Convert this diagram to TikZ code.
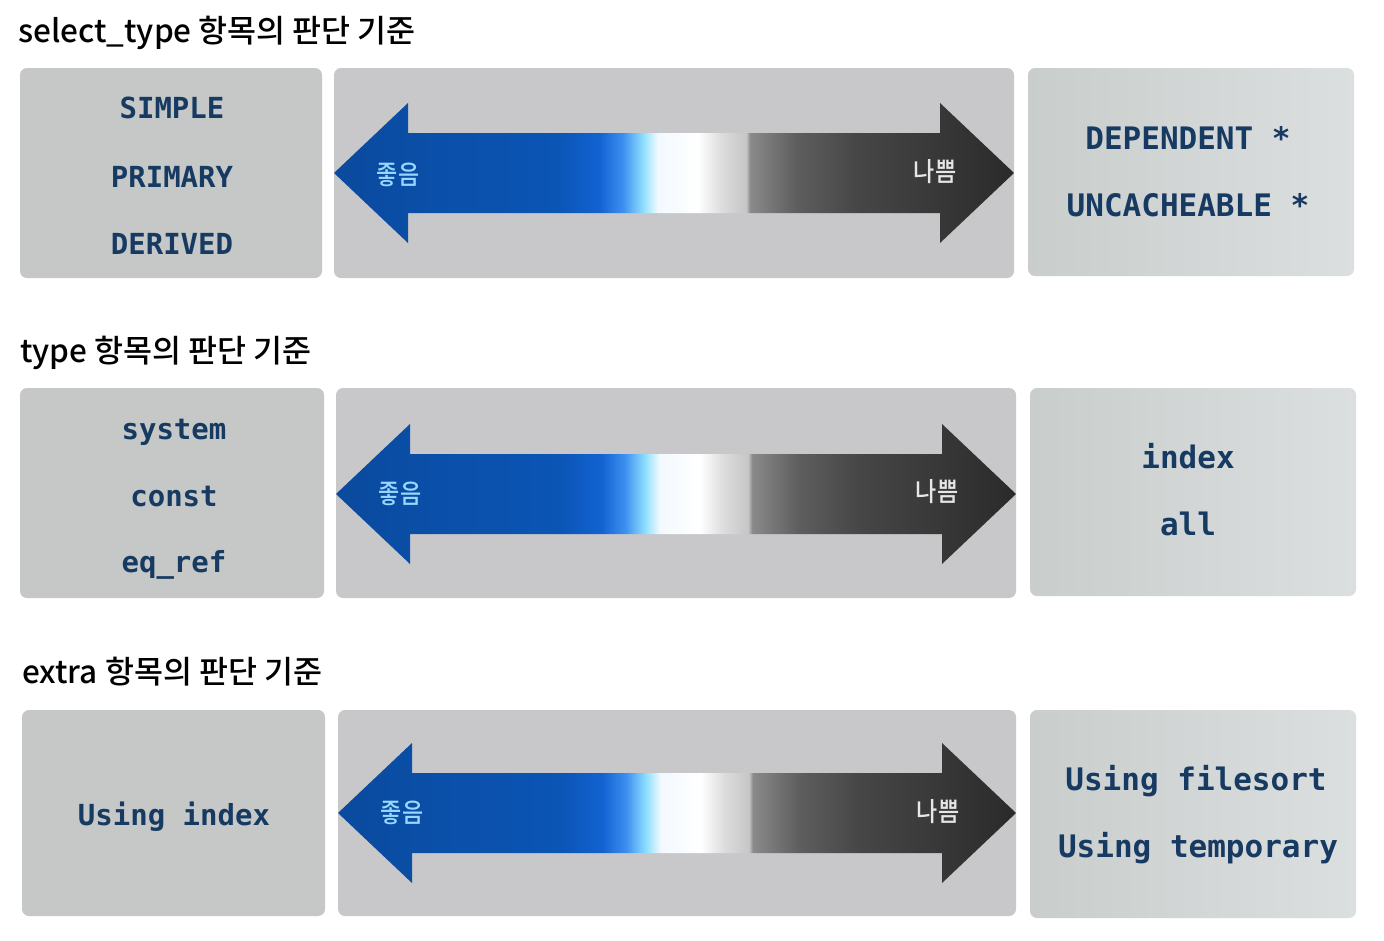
\documentclass[tikz,border=0pt]{standalone}
\usepackage{fontspec}
\setmonofont{DejaVu Sans Mono}
\newfontfamily\kr{Noto Sans CJK KR}
\newfontfamily\krm{Noto Sans CJK KR Medium}
\definecolor{bxleft}{HTML}{C5C8C6}
\definecolor{bxmid}{HTML}{C8C8CA}
\definecolor{bxrightL}{HTML}{C9CDCC}
\definecolor{bxrightR}{HTML}{DCDFDF}
\definecolor{navy}{HTML}{163A62}
\definecolor{gA}{HTML}{0A4A9E}
\definecolor{gB}{HTML}{0B55B5}
\definecolor{gC}{HTML}{1262D2}
\definecolor{gD}{HTML}{3D8FF0}
\definecolor{gE}{HTML}{90E0FF}
\definecolor{gF}{HTML}{F2F9FF}
\definecolor{gG}{HTML}{FFFFFF}
\definecolor{gH}{HTML}{DCDCDC}
\definecolor{gI}{HTML}{C6C6C6}
\definecolor{gJ}{HTML}{8A8A8A}
\definecolor{gK}{HTML}{5E5E5E}
\definecolor{gL}{HTML}{464646}
\definecolor{gM}{HTML}{2A2A2A}
\definecolor{good}{HTML}{9AD8FF}
\definecolor{bad}{HTML}{E6E6E6}
\pgfdeclarehorizontalshading{goodbad}{100bp}{%
  color(0bp)=(gA); color(25bp)=(gA); color(41.5bp)=(gB); color(44.5bp)=(gC);
  color(46.25bp)=(gD); color(47.75bp)=(gE); color(48.8bp)=(gF); color(51.75bp)=(gG);
  color(53.5bp)=(gH); color(55.3bp)=(gI); color(55.6bp)=(gJ); color(59bp)=(gK);
  color(63.5bp)=(gL); color(75bp)=(gM); color(100bp)=(gM)}
\pgfdeclarehorizontalshading{rightbox}{100bp}{%
  color(0bp)=(bxrightL); color(25bp)=(bxrightL); color(75bp)=(bxrightR); color(100bp)=(bxrightR)}
\tikzset{
  panel/.style={rounded corners=7pt, minimum width=#1, inner sep=0pt, draw=none},
  lbox/.style={panel=302pt, fill=bxleft},
  mbox/.style={panel=680pt, fill=bxmid},
  rbox/.style={panel=326pt, shading=rightbox},
  titletext/.style={anchor=base west, inner sep=0pt, font=\krm\fontsize{31.5}{34}\selectfont},
  code/.style={anchor=base, inner sep=0pt, text=navy, font=\ttfamily\bfseries\fontsize{29}{32}\selectfont},
  codeR/.style={anchor=base, inner sep=0pt, text=navy, font=\ttfamily\bfseries\fontsize{31}{34}\selectfont},
  goodlbl/.style={inner sep=0pt, yscale=1.15, text=good, font=\krm\fontsize{23}{26}\selectfont},
  badlbl/.style={inner sep=0pt, yscale=1.15, text=bad, font=\krm\fontsize{23}{26}\selectfont},
  dblarrow/.style={shading=goodbad, draw=none}
}
\newcommand{\gbarrow}[4]{% name, y, xleft, xright
  \path[dblarrow] (#3,#2) -- ++(74,-70) -- ++(0,30) -- (#4-74,#2-40) -- ++(0,-30)
    -- (#4,#2) -- (#4-74,#2+70) -- ++(0,-30) -- (#3+74,#2+40) -- ++(0,30) -- cycle;
  \coordinate (#1) at (#3,#2);
}
\begin{document}
\begin{tikzpicture}[x=1pt,y=-1pt]
\useasboundingbox[fill=white] (0,0) rectangle (1384,940);

% ---------- row 1 ----------
\node[titletext] (t1) at (18,42) {select\_type 항목의 판단 기준};
\node[lbox, minimum height=210pt] (L1) at (171,173) {};
\node[mbox, minimum height=210pt] (M1) at (674,173) {};
\node[rbox, minimum height=208pt] (R1) at (1191,172) {};
\gbarrow{A1}{173}{334}{1014}
\node[goodlbl] (g1) at (398,175) {좋음};
\node[badlbl] (b1) at (935,172) {나쁨};
\node[code] (l1a) at (172,118) {SIMPLE};
\node[code] (l1b) at (172,187) {PRIMARY};
\node[code] (l1c) at (172,254) {DERIVED};
\node[codeR] (r1a) at (1188,149) {DEPENDENT *};
\node[codeR] (r1b) at (1188,216) {UNCACHEABLE *};

% ---------- row 2 ----------
\node[titletext] (t2) at (20,362) {type 항목의 판단 기준};
\node[lbox, minimum width=304pt, minimum height=210pt] (L2) at (172,493) {};
\node[mbox, minimum height=210pt] (M2) at (676,493) {};
\node[rbox, minimum height=208pt] (R2) at (1193,492) {};
\gbarrow{A2}{494}{336}{1016}
\node[goodlbl] (g2) at (400,494) {좋음};
\node[badlbl] (b2) at (937,492) {나쁨};
\node[code] (l2a) at (174,439) {system};
\node[code] (l2b) at (174,506) {const};
\node[code] (l2c) at (174,572) {eq\_ref};
\node[codeR] (r2a) at (1188,468) {index};
\node[codeR] (r2b) at (1188,535) {all};

% ---------- row 3 ----------
\node[titletext] (t3) at (22,683) {extra 항목의 판단 기준};
\node[lbox, minimum width=303pt, minimum height=206pt] (L3) at (173.5,813) {};
\node[mbox, minimum width=678pt, minimum height=206pt] (M3) at (677,813) {};
\node[rbox, minimum height=208pt] (R3) at (1193,814) {};
\gbarrow{A3}{813}{338}{1016}
\node[goodlbl] (g3) at (402,813) {좋음};
\node[badlbl] (b3) at (938,812) {나쁨};
\node[code] (l3a) at (174,825) {Using index};
\node[codeR] (r3a) at (1196,790) {Using filesort};
\node[codeR] (r3b) at (1198,857) {Using temporary};
\end{tikzpicture}
\end{document}
